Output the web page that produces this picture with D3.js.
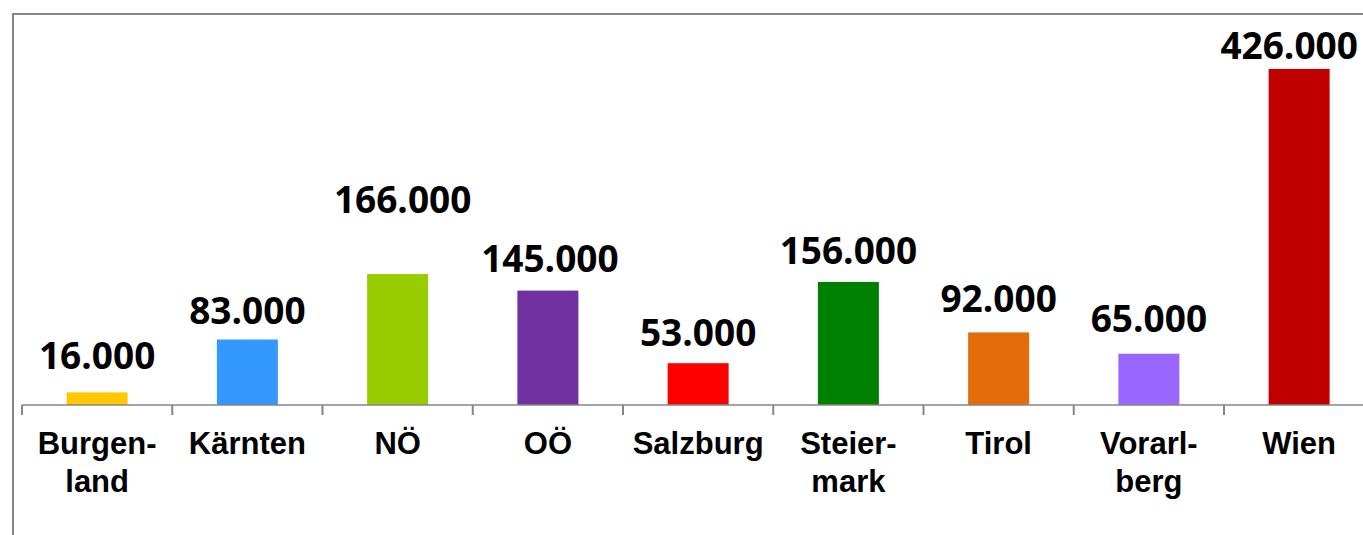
<!DOCTYPE html>
<html>
<head>
<meta charset="utf-8">
<script src="https://cdn.jsdelivr.net/npm/d3@7"></script>
<style>
  html, body { margin: 0; padding: 0; background: #fff; }
  svg { display: block; }
</style>
</head>
<body>
<div id="chart"></div>
<script>
// Bundesländer and values
const categories = ["Burgenland", "Kärnten", "NÖ", "OÖ", "Salzburg", "Steiermark", "Tirol", "Vorarlberg", "Wien"];
const categoryLines = [["Burgen-", "land"], ["Kärnten"], ["NÖ"], ["OÖ"], ["Salzburg"], ["Steier-", "mark"], ["Tirol"], ["Vorarl-", "berg"], ["Wien"]];
const values = [16000, 83000, 166000, 145000, 53000, 156000, 92000, 65000, 426000];
const barColors = ["#ffc800", "#3399ff", "#99cc00", "#7030a0", "#ff0000", "#008000", "#e46c0a", "#9966ff", "#c00000"];

const width = 1363;
const height = 535;
const baseY = 405;

// German number format (thousands with ".")
const de = d3.formatLocale({ decimal: ",", thousands: ".", grouping: [3], currency: ["", " €"] });
const fmt = de.format(",d");

const svg = d3.select("#chart")
    .append("svg")
    .attr("width", width)
    .attr("height", height);

// Frame (only top + left visible, rest cropped)
svg.append("path")
    .attr("d", `M13,${height} L13,14 L${width},14`)
    .attr("fill", "none")
    .attr("stroke", "#868686")
    .attr("stroke-width", 2);

const x = d3.scaleBand()
    .domain(categories)
    .range([22, 22 + 9 * 150.25])
    .paddingInner(0.594)
    .paddingOuter(0.297);

const y = d3.scaleLinear()
    .domain([0, 450000])
    .range([baseY, 50]);

const data = categories.map((c, i) => ({ name: c, value: values[i], color: barColors[i], lines: categoryLines[i] }));

// Bars
svg.append("g")
    .selectAll("rect")
    .data(data)
    .enter()
    .append("rect")
    .attr("x", d => x(d.name))
    .attr("y", d => y(d.value))
    .attr("width", x.bandwidth())
    .attr("height", d => baseY - y(d.value))
    .attr("fill", d => d.color);

// Axis line + ticks on category boundaries
const axis = d3.axisBottom(x).tickSize(0).tickFormat("");
const axisG = svg.append("g")
    .attr("transform", `translate(0,${baseY})`)
    .call(axis);
axisG.select(".domain")
    .attr("d", `M${x.range()[0]},0H${x.range()[1]}`)
    .attr("stroke", "#868686")
    .attr("stroke-width", 1.5);

axisG.append("g")
    .selectAll("line")
    .data(d3.range(categories.length + 1))
    .enter()
    .append("line")
    .attr("x1", i => x.range()[0] + i * x.step())
    .attr("x2", i => x.range()[0] + i * x.step())
    .attr("y1", 0)
    .attr("y2", 10)
    .attr("stroke", "#868686")
    .attr("stroke-width", 2);

// Category labels
const catLabels = svg.append("g")
    .attr("font-family", "'Liberation Sans', Arial, sans-serif")
    .attr("font-weight", "bold")
    .attr("font-size", "31px")
    .attr("text-anchor", "middle")
    .attr("fill", "#000")
    .selectAll("text")
    .data(data)
    .enter()
    .append("text")
    .attr("transform", d => `translate(${x(d.name) + x.bandwidth() / 2},454)`);

catLabels.selectAll("tspan")
    .data(d => d.lines)
    .enter()
    .append("tspan")
    .attr("x", 0)
    .attr("y", (d, i) => i * 38)
    .text(d => d);

// Value labels, nudged as in the original (gap above bar top, horizontal shift)
const labelGap = { "Burgenland": 23, "Kärnten": 16, "NÖ": 61, "OÖ": 19, "Salzburg": 17, "Steiermark": 18, "Tirol": 20, "Vorarlberg": 22, "Wien": 10 };
const labelShift = { "NÖ": 5, "OÖ": 2, "Wien": -10 };

svg.append("g")
    .attr("font-family", "'Open Sans', sans-serif")
    .attr("font-weight", "bold")
    .attr("font-size", "37px")
    .attr("text-anchor", "middle")
    .attr("fill", "#000")
    .selectAll("text")
    .data(data)
    .enter()
    .append("text")
    .attr("x", d => x(d.name) + x.bandwidth() / 2 + (labelShift[d.name] || 0))
    .attr("y", d => y(d.value) - labelGap[d.name])
    .text(d => fmt(d.value));
</script>
</body>
</html>
